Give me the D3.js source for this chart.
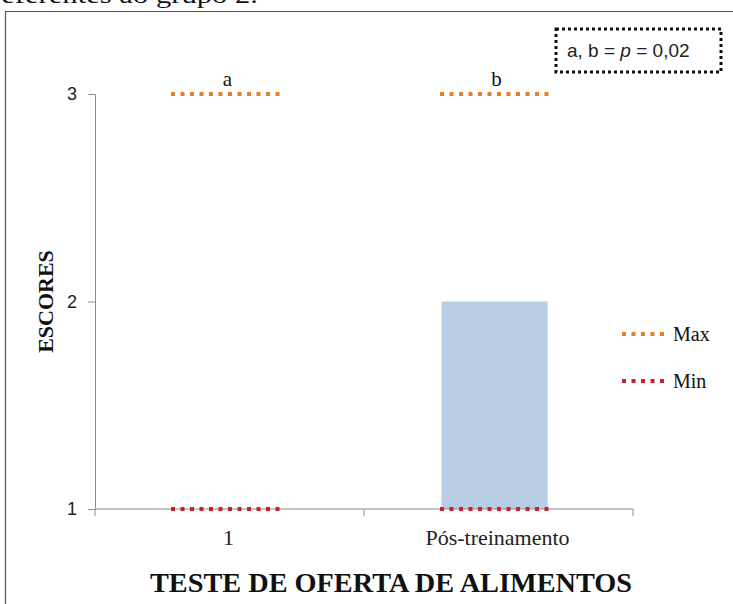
<!DOCTYPE html>
<html>
<head>
<meta charset="utf-8">
<script src="https://cdn.jsdelivr.net/npm/d3@7"></script>
<style>
  html, body { margin: 0; padding: 0; background: #fff; overflow: hidden; }
  svg { display: block; }
</style>
</head>
<body>
<svg id="chart" width="733" height="604"></svg>
<script>
// Categories and series
const categories = ["1", "Pós-treinamento"];
const barValues = [1, 2];          // bar heights (axis starts at 1)
const maxValues = [3, 3];          // "Max" dotted markers
const minValues = [1, 1];          // "Min" dotted markers
const groupLetters = ["a", "b"];
const yTicks = [1, 2, 3];

const colors = { bar: "#b9cde5", max: "#e3802f", min: "#cf1f2b", axis: "#8c8c8c" };
const serif = "'Liberation Serif', 'Times New Roman', serif";
const sans = "'Liberation Sans', Arial, sans-serif";

const svg = d3.select("#chart");

// Caption line from the page above the chart (cropped at the top)
svg.append("text")
  .attr("x", -9).attr("y", 3)
  .attr("font-family", serif).attr("font-size", 24).attr("fill", "#111")
  .attr("textLength", 267).attr("lengthAdjust", "spacingAndGlyphs")
  .text("referentes ao grupo 2.");

// Chart frame
svg.append("path")
  .attr("d", "M5.5,604 L5.5,11.5 L733,11.5")
  .attr("fill", "none").attr("stroke", "#555").attr("stroke-width", 1.2);

const x = d3.scaleBand().domain(categories).range([95, 633]).padding(0);
const y = d3.scaleLinear().domain([1, 3]).range([509, 94]);

// Bars
const barW = x.bandwidth() * 0.395;
svg.append("g").selectAll("rect")
  .data(categories)
  .join("rect")
  .attr("x", (d) => x(d) + x.bandwidth() / 2 - barW / 2 - 4)
  .attr("width", barW)
  .attr("y", (d, i) => y(barValues[i]))
  .attr("height", (d, i) => y(1) - y(barValues[i]))
  .attr("fill", colors.bar);

// Y axis
const yAxis = svg.append("g").attr("transform", "translate(95,0)")
  .call(d3.axisLeft(y).tickValues(yTicks).tickFormat(d3.format("d")).tickSizeOuter(0).tickSize(7).tickPadding(11));
yAxis.select(".domain").attr("stroke", colors.axis);
yAxis.selectAll(".tick line").attr("stroke", colors.axis);
yAxis.selectAll(".tick text").attr("font-family", sans).attr("font-size", 18).attr("fill", "#222");

// X axis: category boundary ticks pointing down, labels under the centres
const xAxis = svg.append("g").attr("transform", `translate(0,${y(1)})`);
xAxis.append("line").attr("x1", 95).attr("x2", 633).attr("stroke", colors.axis);
const bounds = [x.range()[0], ...categories.map((c) => x(c) + x.bandwidth())];
xAxis.selectAll("line.tk").data(bounds).join("line").attr("class", "tk")
  .attr("x1", (d) => d).attr("x2", (d) => d).attr("y1", 0).attr("y2", 7)
  .attr("stroke", colors.axis);
xAxis.selectAll("text").data(categories).join("text")
  .attr("x", (d) => x(d) + x.bandwidth() / 2 - 1)
  .attr("y", 36)
  .attr("text-anchor", "middle")
  .attr("font-family", serif).attr("font-size", 22).attr("fill", "#222")
  .text((d) => d);

// Dotted Max / Min markers
const segW = 113;
function dotted(values, color) {
  svg.append("g").selectAll("line")
    .data(categories)
    .join("line")
    .attr("x1", (d) => x(d) + x.bandwidth() / 2 - segW / 2 - 2)
    .attr("x2", (d) => x(d) + x.bandwidth() / 2 + segW / 2 - 2)
    .attr("y1", (d, i) => y(values[i]))
    .attr("y2", (d, i) => y(values[i]))
    .attr("stroke", color).attr("stroke-width", 4)
    .attr("stroke-dasharray", "4,5.5");
}
dotted(maxValues, colors.max);
dotted(minValues, colors.min);

// Significance letters above the Max markers
svg.append("g").selectAll("text")
  .data(categories)
  .join("text")
  .attr("x", (d) => x(d) + x.bandwidth() / 2 - 2)
  .attr("y", (d, i) => y(maxValues[i]) - 8)
  .attr("text-anchor", "middle")
  .attr("font-family", serif).attr("font-size", 21).attr("fill", "#111")
  .text((d, i) => groupLetters[i]);

// Axis titles
svg.append("text")
  .attr("transform", `translate(53,${y(2)}) rotate(-90)`)
  .attr("text-anchor", "middle")
  .attr("font-family", serif).attr("font-size", 22).attr("font-weight", "bold").attr("fill", "#111")
  .text("ESCORES");
svg.append("text")
  .attr("x", 391).attr("y", 592)
  .attr("text-anchor", "middle")
  .attr("font-family", serif).attr("font-size", 27).attr("font-weight", "bold").attr("fill", "#111")
  .attr("textLength", 482).attr("lengthAdjust", "spacingAndGlyphs")
  .text("TESTE DE OFERTA DE ALIMENTOS");

// Significance note box
svg.append("rect")
  .attr("x", 556).attr("y", 29).attr("width", 165).attr("height", 43)
  .attr("fill", "#fff").attr("stroke", "#111").attr("stroke-width", 3)
  .attr("stroke-dasharray", "3,3");
const note = svg.append("text")
  .attr("x", 567).attr("y", 57)
  .attr("font-family", sans).attr("font-size", 19).attr("fill", "#222");
note.append("tspan").text("a, b = ");
note.append("tspan").attr("font-style", "italic").text("p");
note.append("tspan").text(" = 0,02");

// Legend
const legend = [
  { label: "Max", color: colors.max, y: 334 },
  { label: "Min", color: colors.min, y: 381 }
];
const lg = svg.append("g").selectAll("g").data(legend).join("g")
  .attr("transform", (d) => `translate(622,${d.y})`);
lg.append("line").attr("x1", 0).attr("x2", 46)
  .attr("stroke", (d) => d.color).attr("stroke-width", 4).attr("stroke-dasharray", "4,5.5");
lg.append("text").attr("x", 51).attr("y", 7)
  .attr("font-family", serif).attr("font-size", 20).attr("fill", "#111")
  .text((d) => d.label);
</script>
</body>
</html>
